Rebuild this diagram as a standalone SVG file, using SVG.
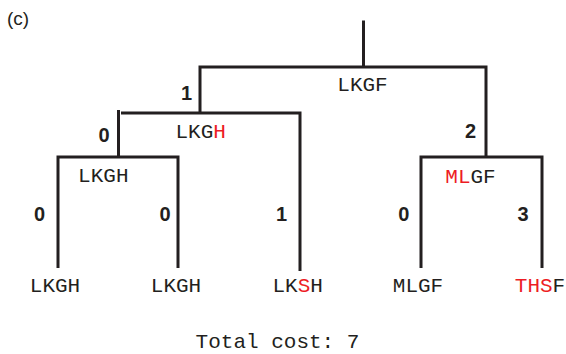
<svg xmlns="http://www.w3.org/2000/svg" width="566" height="354" viewBox="0 0 566 354">
<style>
.ln{fill:none;stroke:#231f20;stroke-width:3;stroke-linejoin:miter;stroke-linecap:butt}
.seq{font-family:"Liberation Mono","Courier New",monospace;font-size:21px;fill:#231f20;text-anchor:middle}
.r{fill:#ed1c24}
.w{font-family:"Liberation Sans",Arial,sans-serif;font-weight:bold;font-size:20px;fill:#231f20;text-anchor:middle}
.cap{font-family:"Liberation Sans",Arial,sans-serif;font-size:19px;fill:#231f20}
</style>
<rect width="566" height="354" fill="#ffffff"/>
<text class="cap" x="7" y="25">(c)</text>
<g id="connectors">
<path class="ln" d="M363.5 20.5 V67"/>
<path class="ln" d="M200 113 V67 H486 V157"/>
<path class="ln" d="M118.5 110 V157"/>
<path class="ln" d="M121 113 H300 V271"/>
<path class="ln" d="M58 268 V157 H178 V268"/>
<path class="ln" d="M421 268 V157 H542 V268"/>
</g>
<g id="root"><text class="seq" x="362.5" y="90.7">LKGF</text></g>
<g id="n1"><text class="seq" x="200.7" y="137.7">LKG<tspan class="r">H</tspan></text><text class="w" x="186.5" y="100">1</text></g>
<g id="n2"><text class="seq" x="103.3" y="181.7">LKGH</text><text class="w" x="104" y="141.7">0</text></g>
<g id="n3"><text class="seq" x="470.5" y="182.7"><tspan class="r">ML</tspan>GF</text><text class="w" x="470.5" y="137.7">2</text></g>
<g id="leaf1"><text class="seq" x="55" y="291.7">LKGH</text><text class="w" x="39.5" y="220.7">0</text></g>
<g id="leaf2"><text class="seq" x="176" y="291.7">LKGH</text><text class="w" x="165" y="220.7">0</text></g>
<g id="leaf3"><text class="seq" x="297.7" y="291.7">LK<tspan class="r">S</tspan>H</text><text class="w" x="281.5" y="220.7">1</text></g>
<g id="leaf4"><text class="seq" x="418" y="291.7">MLGF</text><text class="w" x="403.7" y="220.7">0</text></g>
<g id="leaf5"><text class="seq" x="540" y="291.7"><tspan class="r">THS</tspan>F</text><text class="w" x="523" y="220.7">3</text></g>
<text class="seq" x="277.5" y="348">Total cost: 7</text>
</svg>
